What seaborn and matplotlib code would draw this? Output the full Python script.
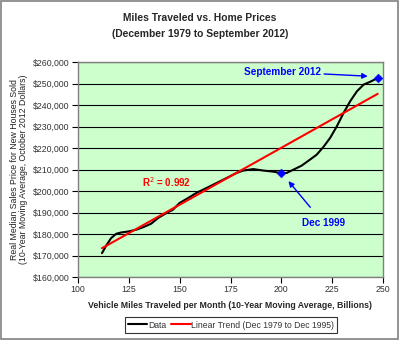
import numpy as np
import pandas as pd
import matplotlib
matplotlib.use("Agg")
import matplotlib.pyplot as plt
import seaborn as sns
from matplotlib.ticker import FuncFormatter, MultipleLocator
from matplotlib.patches import Rectangle

# Data
miles = [111.8, 114.0, 116.3, 118.8, 121.2, 125.0, 128.6, 131.9, 136.0, 139.3, 143.4,
         146.7, 149.9, 154.1, 158.2, 163.2, 168.1, 173.0, 178.0, 181.2, 186.2, 191.2,
         196.1, 199.8, 202.6, 205.9, 210.0, 214.1, 217.4, 220.7, 224.0, 227.3, 230.6,
         233.9, 237.2, 240.5, 243.7, 247.3]
price = [171100, 174800, 178100, 180100, 180700, 181200, 182000, 183100, 184800, 187400,
         189700, 191300, 194400, 196700, 199100, 201400, 203700, 206000, 208400, 209500,
         210200, 209500, 209000, 208300, 208400, 209900, 211800, 214600, 216900, 220500,
         224700, 230100, 236300, 241800, 246400, 249500, 250800, 252500]
trend_x = [111.8, 247.4]
trend_y = [173400, 245200]
marker_x = [199.8, 247.3]
marker_y = [208300, 252500]
x_ticks = [100, 125, 150, 175, 200, 225, 250]

df = pd.DataFrame({"miles": miles, "price": price, "series": "Data"})
tr = pd.DataFrame({"miles": trend_x, "price": trend_y,
                   "series": "Linear Trend (Dec 1979 to Dec 1995)"})

sns.set_style("white")
plt.rcParams["font.family"] = ["Liberation Sans", "DejaVu Sans"]

fig = plt.figure(figsize=(4, 3.4), dpi=100)
fig.patch.set_facecolor("white")
ax = fig.add_axes([78 / 400, 1 - 277 / 340, 305 / 400, 215 / 340])
ax.set_facecolor("#CCFFCC")

sns.lineplot(data=df, x="miles", y="price", color="black", lw=1.5, ax=ax,
             label="Data", sort=False)
sns.lineplot(data=tr, x="miles", y="price", color="#FF0000", lw=1.5, ax=ax,
             label="Linear Trend (Dec 1979 to Dec 1995)")
sns.scatterplot(x=marker_x, y=marker_y, marker="D", color="#0000FF", s=20,
                edgecolor="#0000FF", ax=ax, zorder=5, legend=False)

ax.set_xlim(100, 250)
ax.set_ylim(160000, 260000)
ax.set_xticks(x_ticks)
ax.yaxis.set_major_locator(MultipleLocator(10000))
ax.yaxis.set_major_formatter(FuncFormatter(lambda v, p: f"${v:,.0f}"))
ax.grid(axis="y", color="black", lw=0.8)
ax.set_axisbelow(True)
for s in ax.spines.values():
    s.set_color("#808080")
    s.set_linewidth(1)
ax.tick_params(axis="both", labelsize=6.3, length=4, width=0.8, color="black",
               labelcolor="#333333", direction="out", bottom=True, left=True,
               pad=2)

ax.set_xlabel("Vehicle Miles Traveled per Month (10-Year Moving Average, Billions)",
              fontsize=6.3, fontweight="bold", labelpad=5)
ax.set_ylabel("Real Median Sales Price for New Houses Sold\n"
              "(10-Year Moving Average, October 2012 Dollars)",
              fontsize=6.3, labelpad=4, linespacing=1.1, color="#222222")
ax.yaxis.set_label_coords(-0.163, 0.5)

fig.text(0.5, 1 - 18 / 340, "Miles Traveled vs. Home Prices", ha="center",
         va="center", fontsize=7.4, fontweight="bold")
fig.text(0.5, 1 - 34 / 340, "(December 1979 to September 2012)", ha="center",
         va="center", fontsize=7.4, fontweight="bold")

ax.text(131.5, 204300, "R$^2$ = 0.992", color="#FF0000", fontsize=7,
        fontweight="bold", va="center", ha="left")
ax.annotate("September 2012", xy=(242.5, 253400), xytext=(200.5, 255400),
            color="#0000FF", fontsize=7.2, fontweight="bold", ha="center", va="center",
            arrowprops=dict(arrowstyle="-|>", color="#0000FF", lw=1,
                            shrinkA=45, shrinkB=0, mutation_scale=8))
ax.annotate("Dec 1999", xy=(203.5, 204600), xytext=(220.7, 185100),
            color="#0000FF", fontsize=7.2, fontweight="bold", ha="center", va="center",
            arrowprops=dict(arrowstyle="-|>", color="#0000FF", lw=1,
                            shrinkA=7, shrinkB=0, mutation_scale=8))

leg = ax.legend(loc="center", bbox_to_anchor=(231 / 400, 1 - 325 / 340),
                bbox_transform=fig.transFigure, ncol=2, fontsize=6.2,
                frameon=True, fancybox=False, handlelength=2.3,
                handletextpad=0.1, columnspacing=0.5, borderpad=0.35,
                borderaxespad=0)
leg.get_frame().set_edgecolor("black")
leg.get_frame().set_linewidth(0.8)
for t in leg.get_texts():
    t.set_color("#333333")

fig.patches.append(Rectangle((0.002, 0.003), 0.993, 0.994, transform=fig.transFigure,
                             fill=False, edgecolor="#808080", lw=1.2))

fig.savefig("out.png", dpi=100)
